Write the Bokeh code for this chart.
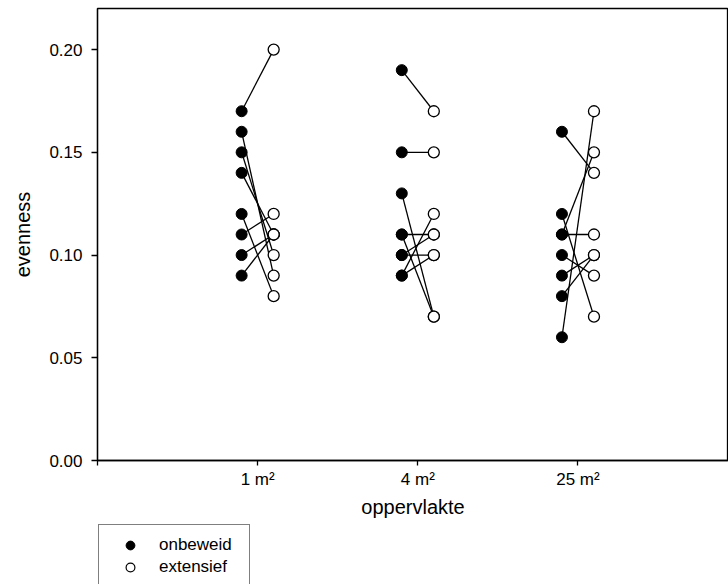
from bokeh.plotting import figure
from bokeh.models import FixedTicker, Legend, LegendItem
from bokeh.layouts import column
from bokeh.embed import file_html
from bokeh.resources import INLINE

# categories (x positions 1,2,3)
areas = ["1 m²", "4 m²", "25 m²"]
area_pos = [1, 2, 3]

# paired values per area: onbeweid -> extensief
onbeweid_1 = [0.17, 0.16, 0.15, 0.14, 0.12, 0.11, 0.10, 0.09]
extensief_1 = [0.20, 0.09, 0.10, 0.11, 0.08, 0.12, 0.11, 0.11]

onbeweid_4 = [0.19, 0.15, 0.13, 0.11, 0.11, 0.10, 0.10, 0.09, 0.09]
extensief_4 = [0.17, 0.15, 0.07, 0.07, 0.11, 0.10, 0.11, 0.12, 0.10]

onbeweid_25 = [0.16, 0.12, 0.11, 0.11, 0.10, 0.09, 0.08, 0.06]
extensief_25 = [0.14, 0.07, 0.11, 0.15, 0.09, 0.10, 0.10, 0.17]

onb_all = [onbeweid_1, onbeweid_4, onbeweid_25]
ext_all = [extensief_1, extensief_4, extensief_25]

y_ticks = [0.00, 0.05, 0.10, 0.15, 0.20]

FONT = "Liberation Sans"
OFF = 0.1

p = figure(width=728, height=520, output_backend="svg", toolbar_location=None,
           x_range=(0, 3.94), y_range=(0, 0.22),
           min_border_left=97, min_border_top=8, min_border_bottom=59, min_border_right=0)

xs0, ys0, xs1, ys1 = [], [], [], []
for pos, onb, ext in zip(area_pos, onb_all, ext_all):
    for a, b in zip(onb, ext):
        xs0.append(pos - OFF); ys0.append(a)
        xs1.append(pos + OFF); ys1.append(b)

p.segment(x0=xs0, y0=ys0, x1=xs1, y1=ys1, line_color="black", line_width=1.3)
p.scatter(xs0, ys0, size=11, marker="circle", fill_color="black", line_color="black")
p.scatter(xs1, ys1, size=11, marker="circle", fill_color="white", line_color="black", line_width=1.3)

p.grid.visible = False
p.outline_line_color = "black"
p.outline_line_width = 1.3

p.xaxis.ticker = FixedTicker(ticks=[0] + area_pos)
p.xaxis.major_label_overrides = {0: "", **{pos: lab for pos, lab in zip(area_pos, areas)}}
p.yaxis.ticker = FixedTicker(ticks=y_ticks)
p.yaxis.major_label_overrides = {t: f"{t:.2f}" for t in y_ticks}

for ax in (p.xaxis[0], p.yaxis[0]):
    ax.minor_tick_line_color = None
    ax.major_tick_in = 0
    ax.axis_line_color = "black"
    ax.axis_line_width = 1.3
    ax.major_tick_line_color = "black"
    ax.major_tick_line_width = 1.3
    ax.major_label_text_font = FONT
    ax.major_label_text_font_size = "17px"
    ax.major_label_text_color = "black"
    ax.axis_label_text_font = FONT
    ax.axis_label_text_font_size = "20px"
    ax.axis_label_text_font_style = "normal"
    ax.axis_label_text_color = "black"

p.yaxis.major_tick_out = 6
p.xaxis.major_tick_out = 5
p.xaxis.axis_label = "oppervlakte"
p.yaxis.axis_label = "evenness"
p.xaxis.major_label_standoff = 4
p.xaxis.axis_label_standoff = 4
p.yaxis.major_label_standoff = 9
p.yaxis.axis_label_standoff = 12

# legend panel below the chart
lg = figure(width=728, height=64, output_backend="svg", toolbar_location=None,
            x_range=(0, 1), y_range=(0, 1),
            min_border_left=0, min_border_right=0, min_border_top=0, min_border_bottom=0)
lg.axis.visible = False
lg.grid.visible = False
lg.outline_line_color = None
r_onb = lg.scatter([-5], [-5], size=9, marker="circle", fill_color="black", line_color="black")
r_ext = lg.scatter([-5], [-5], size=9, marker="circle", fill_color="white", line_color="black", line_width=1.2)

legend = Legend(items=[LegendItem(label="onbeweid", renderers=[r_onb]),
                       LegendItem(label="extensief", renderers=[r_ext])],
                location=(1, -4))
legend.border_line_color = "black"
legend.border_line_width = 1.3
legend.background_fill_alpha = 1
legend.padding = 9
legend.spacing = 0
legend.label_height = 22
legend.glyph_height = 22
legend.glyph_width = 44
legend.label_width = 81
legend.label_standoff = 7
legend.margin = 0
legend.label_text_font = FONT
legend.label_text_font_size = "17px"
legend.label_text_color = "black"
legend.label_text_baseline = "middle"
lg.add_layout(legend)

layout = column(p, lg, spacing=0)
open("out.html", "w").write(file_html(layout, INLINE))
